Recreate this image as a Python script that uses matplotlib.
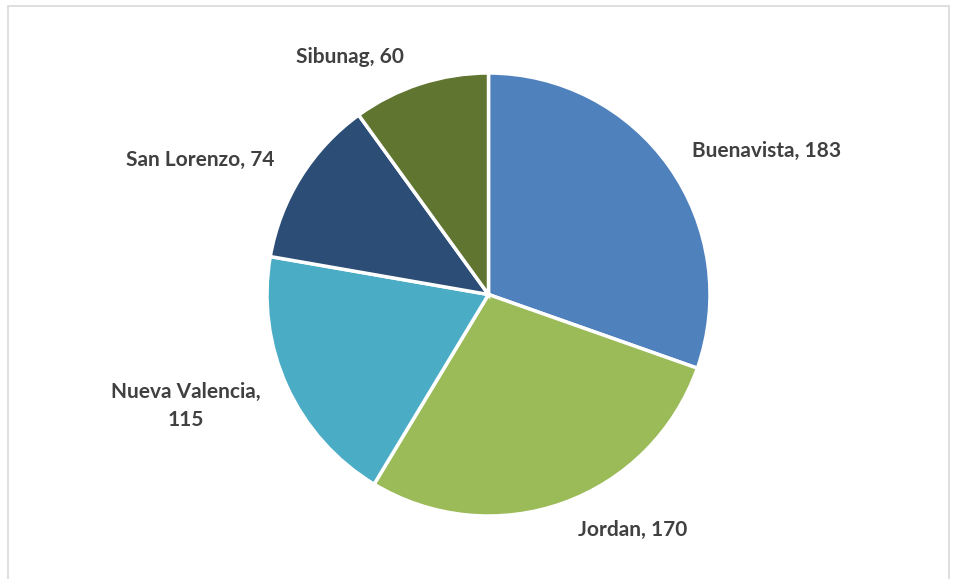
import matplotlib
matplotlib.use("Agg")
import matplotlib.pyplot as plt
from matplotlib.patches import Rectangle

categories = ["Buenavista", "Jordan", "Nueva Valencia", "San Lorenzo", "Sibunag"]
values = [183, 170, 115, 74, 60]
colors = ["#4F81BD", "#9BBB59", "#4BACC6", "#2C4D75", "#5F7530"]
label_texts = ["Buenavista, 183", "Jordan, 170", "Nueva Valencia,\n115", "San Lorenzo, 74", "Sibunag, 60"]
# label positions in pie-radius units
label_pos = [(1.257, 0.650), (0.652, -1.064), (-1.366, -0.503), (-1.302, 0.607), (-0.625, 1.072)]

W, H = 957, 579
fig = plt.figure(figsize=(W / 100, H / 100), dpi=100)
fig.patch.set_facecolor("white")

# chart border
fig.add_artist(Rectangle((8 / W, -0.01), (949 - 8) / W, (H - 6) / H + 0.01,
                         transform=fig.transFigure, fill=False,
                         edgecolor="#D9D9D9", linewidth=1.2))

cx, cy, r = 488.5, 294.5, 221.5
ax = fig.add_axes([(cx - r) / W, (H - cy - r) / H, 2 * r / W, 2 * r / H])
ax.pie(values, colors=colors, startangle=90, counterclock=False,
       wedgeprops=dict(edgecolor="white", linewidth=2.5), radius=1.0)
ax.set_xlim(-1, 1)
ax.set_ylim(-1, 1)
ax.set_aspect("equal")
ax.axis("off")

for txt, (x, y) in zip(label_texts, label_pos):
    ax.text(x, y, txt, ha="center", va="center", fontsize=15,
            fontweight="bold", family="Lato", color="#404040",
            linespacing=1.5)

fig.savefig("out.png", dpi=100)
